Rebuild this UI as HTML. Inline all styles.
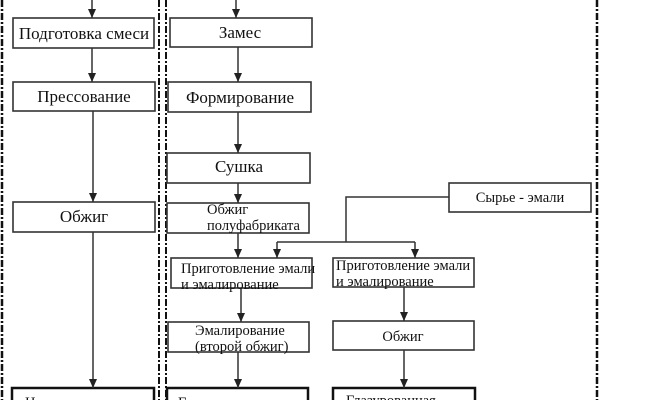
<!DOCTYPE html>
<html><head><meta charset="utf-8"><style>
html,body{margin:0;padding:0;background:#fff;}
svg{display:block;}
text{font-family:"Liberation Serif","DejaVu Serif",serif;fill:#111;}
.b{font-size:17px;}
.s{font-size:14.5px;}
</style></head><body>
<svg width="645" height="400" viewBox="0 0 645 400" xmlns="http://www.w3.org/2000/svg">
<defs><marker id="a" markerWidth="9" markerHeight="8" refX="9" refY="4" orient="auto" markerUnits="userSpaceOnUse"><path d="M0,0 L9,4 L0,8 z" fill="#222"/></marker></defs>
<g stroke="#111" fill="none">
<line x1="2" y1="0" x2="2" y2="400" stroke-width="2.5" stroke-dasharray="7,2,2,2"/>
<line x1="159" y1="0" x2="159" y2="400" stroke-width="2" stroke-dasharray="7,2,2,2"/>
<line x1="166" y1="0" x2="166" y2="400" stroke-width="2" stroke-dasharray="7,2,2,2"/>
<line x1="597" y1="0" x2="597" y2="400" stroke-width="2.5" stroke-dasharray="7,2,2,2"/>
</g>
<g stroke="#333" stroke-width="1.6" fill="#fff">
<rect x="13" y="18" width="141" height="30"/>
<rect x="13" y="82" width="142" height="29"/>
<rect x="13" y="202" width="142" height="30"/>
<rect x="170" y="18" width="142" height="29"/>
<rect x="168" y="82" width="143" height="30"/>
<rect x="167" y="153" width="143" height="30"/>
<rect x="167" y="203" width="142" height="30"/>
<rect x="171" y="258" width="141" height="30"/>
<rect x="168" y="322" width="141" height="30"/>
<rect x="449" y="183" width="142" height="29"/>
<rect x="333" y="258" width="141" height="29"/>
<rect x="333" y="321" width="141" height="29"/>
</g>
<g stroke="#111" stroke-width="2.5" fill="#fff">
<rect x="12" y="388" width="142" height="20"/>
<rect x="167" y="388" width="141" height="20"/>
<rect x="333" y="388" width="142" height="20"/>
</g>
<g stroke="#333" stroke-width="1.5" fill="none" marker-end="url(#a)">
<line x1="92" y1="0" x2="92" y2="18"/>
<line x1="92" y1="48" x2="92" y2="82"/>
<line x1="93" y1="111" x2="93" y2="202"/>
<line x1="93" y1="232" x2="93" y2="388"/>
<line x1="236" y1="0" x2="236" y2="18"/>
<line x1="238" y1="47" x2="238" y2="82"/>
<line x1="238" y1="112" x2="238" y2="153"/>
<line x1="238" y1="183" x2="238" y2="203"/>
<line x1="238" y1="233" x2="238" y2="258"/>
<line x1="241" y1="288" x2="241" y2="322"/>
<line x1="238" y1="352" x2="238" y2="388"/>
<line x1="404" y1="287" x2="404" y2="321"/>
<line x1="404" y1="350" x2="404" y2="388"/>
<line x1="277" y1="242" x2="277" y2="258"/>
<line x1="415" y1="242" x2="415" y2="258"/>
</g>
<polyline points="449,197 346,197 346,242" stroke="#333" stroke-width="1.5" fill="none"/>
<line x1="277" y1="242" x2="415" y2="242" stroke="#333" stroke-width="1.5"/>
<text class="b" x="84" y="39" text-anchor="middle">Подготовка смеси</text>
<text class="b" x="84" y="102" text-anchor="middle">Прессование</text>
<text class="b" x="84" y="222" text-anchor="middle">Обжиг</text>
<text class="b" x="240" y="38" text-anchor="middle">Замес</text>
<text class="b" x="240" y="103" text-anchor="middle">Формирование</text>
<text class="b" x="239" y="172" text-anchor="middle">Сушка</text>
<text class="s" x="207" y="214">Обжиг</text>
<text class="s" x="207" y="230">полуфабриката</text>
<text class="s" x="181" y="273">Приготовление эмали</text>
<text class="s" x="181" y="289">и эмалирование</text>
<text class="s" x="195" y="335">Эмалирование</text>
<text class="s" x="195" y="351">(второй обжиг)</text>
<text class="s" x="520" y="202" text-anchor="middle">Сырье - эмали</text>
<text class="s" x="336" y="270">Приготовление эмали</text>
<text class="s" x="336" y="286">и эмалирование</text>
<text class="s" x="403" y="341" text-anchor="middle">Обжиг</text>
<text class="s" x="25" y="407">Неглазурованная</text>
<text class="s" x="178" y="407">Глазурованная</text>
<text class="s" x="346" y="405">Глазурованная</text>
</svg>
</body></html>
